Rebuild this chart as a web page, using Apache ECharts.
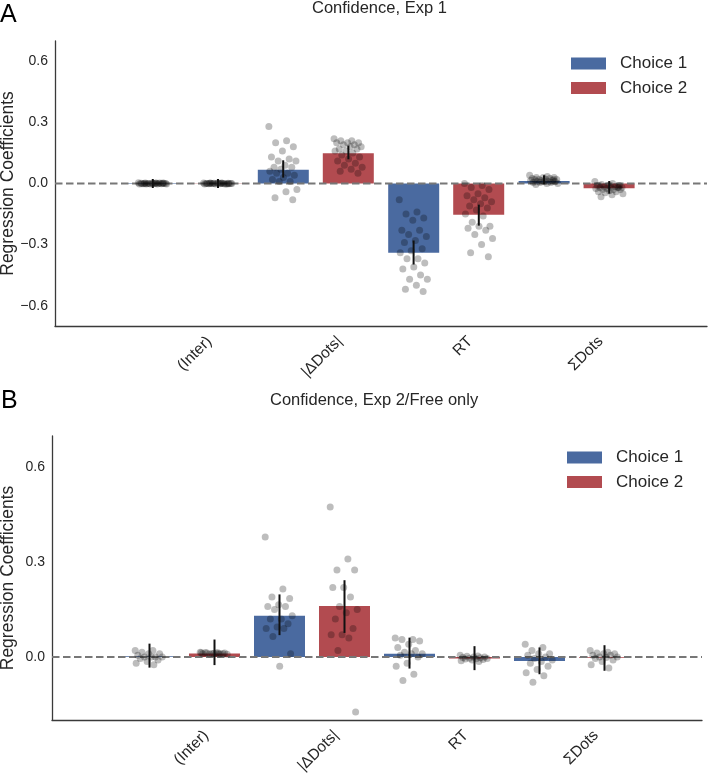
<!DOCTYPE html>
<html>
<head>
<meta charset="utf-8">
<script src="https://cdn.jsdelivr.net/npm/echarts@6/dist/echarts.min.js"></script>
<style>html,body{margin:0;padding:0;background:#fff}#c{width:708px;height:779px}</style>
</head>
<body>
<div id="c"></div>
<script>
// ---------- data ----------
const categories = ['(Inter)', '|ΔDots|', 'RT', 'ΣDots'];
const seriesNames = ['Choice 1', 'Choice 2'];
const yTicksA = [-0.6, -0.3, 0.0, 0.3, 0.6];
const yTicksB = [0.0, 0.3, 0.6];

// Panel A: Confidence, Exp 1 — bar means and error-bar bounds
const meanA_c1 = [0.002, 0.068, -0.34, 0.012];
const meanA_c2 = [0.001, 0.149, -0.153, -0.023];
const ciLowA_c1 = [-0.022, 0.029, -0.398, -0.004];
const ciHighA_c1 = [0.022, 0.114, -0.28, 0.04];
const ciLowA_c2 = [-0.022, 0.119, -0.207, -0.05];
const ciHighA_c2 = [0.022, 0.186, -0.104, 0.012];

// Panel A: individual subject coefficients
const ptsA_c1_inter = [0.004, 0.003, 0.002, 0.002, 0.001, 0.001, 0.0, 0.0, 0.0, 0.0, -0.001, -0.001, -0.002, -0.002, -0.003, -0.003, 0.001, 0.0, -0.001, 0.002, 0.0, -0.002, 0.001, 0.0, 0.0];
const ptsA_c2_inter = [0.003, 0.002, 0.002, 0.001, 0.001, 0.0, 0.0, 0.0, 0.0, -0.001, -0.001, -0.002, -0.002, -0.003, 0.001, 0.0, -0.001, 0.002, 0.0, -0.002, 0.001, 0.0, 0.0, 0.001, -0.001];
const ptsA_c1_dots = [0.28, 0.21, 0.20, 0.18, 0.16, 0.13, 0.12, 0.11, 0.11, 0.09, 0.08, 0.08, 0.07, 0.06, 0.05, 0.05, 0.04, 0.03, 0.02, 0.01, 0.01, -0.03, -0.04, -0.07, -0.08];
const ptsA_c2_dots = [0.22, 0.21, 0.21, 0.20, 0.20, 0.20, 0.19, 0.19, 0.18, 0.18, 0.17, 0.17, 0.16, 0.16, 0.15, 0.14, 0.13, 0.12, 0.11, 0.10, 0.09, 0.08, 0.07, 0.06, 0.05];
const ptsA_c1_rt = [-0.08, -0.14, -0.15, -0.17, -0.18, -0.23, -0.23, -0.25, -0.26, -0.28, -0.29, -0.32, -0.33, -0.34, -0.37, -0.37, -0.39, -0.41, -0.42, -0.45, -0.47, -0.47, -0.50, -0.52, -0.53];
const ptsA_c2_rt = [0.0, -0.01, -0.02, -0.03, -0.05, -0.06, -0.07, -0.08, -0.09, -0.10, -0.11, -0.12, -0.13, -0.15, -0.16, -0.19, -0.21, -0.21, -0.22, -0.23, -0.25, -0.27, -0.30, -0.34, -0.36];
const ptsA_c1_sum = [0.04, 0.035, 0.03, 0.03, 0.03, 0.025, 0.025, 0.02, 0.02, 0.02, 0.02, 0.015, 0.015, 0.015, 0.01, 0.01, 0.01, 0.01, 0.005, 0.005, 0.005, 0.0, 0.0, -0.005, 0.02];
const ptsA_c2_sum = [0.01, 0.0, -0.005, -0.01, -0.01, -0.01, -0.015, -0.015, -0.02, -0.02, -0.02, -0.02, -0.025, -0.025, -0.03, -0.03, -0.03, -0.035, -0.04, -0.04, -0.045, -0.05, -0.055, -0.065, -0.02];

// Panel B: Confidence, Exp 2/Free only
const meanB_c1 = [0.002, 0.13, 0.01, -0.013];
const meanB_c2 = [0.011, 0.161, -0.005, -0.003];
const ciLowB_c1 = [-0.034, 0.069, -0.037, -0.055];
const ciHighB_c1 = [0.042, 0.198, 0.061, 0.03];
const ciLowB_c2 = [-0.026, 0.076, -0.042, -0.044];
const ciHighB_c2 = [0.055, 0.243, 0.034, 0.037];

const ptsB_c1_inter = [0.02, 0.02, 0.015, 0.01, 0.01, 0.005, 0.0, 0.0, 0.0, 0.0, -0.005, -0.01, -0.015, -0.02, -0.025];
const ptsB_c2_inter = [0.015, 0.013, 0.012, 0.012, 0.011, 0.01, 0.01, 0.009, 0.008, 0.012, 0.014, 0.01, 0.011, 0.013, 0.009];
const ptsB_c1_dots = [0.38, 0.215, 0.19, 0.185, 0.165, 0.16, 0.16, 0.15, 0.13, 0.12, 0.12, 0.105, 0.095, 0.09, 0.09, 0.065, 0.01, -0.03];
const ptsB_c2_dots = [0.475, 0.31, 0.275, 0.275, 0.22, 0.22, 0.19, 0.16, 0.15, 0.14, 0.12, 0.09, 0.07, 0.07, 0.06, 0.02, -0.175];
const ptsB_c1_rt = [0.06, 0.055, 0.055, 0.05, 0.04, 0.03, 0.02, 0.015, 0.01, 0.01, 0.005, 0.0, -0.02, -0.03, -0.055, -0.075];
const ptsB_c2_rt = [0.005, 0.003, 0.002, 0.0, 0.0, -0.002, -0.003, -0.004, -0.005, -0.006, -0.007, -0.008, -0.01, -0.012, -0.015];
const ptsB_c1_sum = [0.04, 0.03, 0.02, 0.01, 0.01, 0.005, 0.0, -0.005, -0.01, -0.015, -0.02, -0.03, -0.04, -0.05, -0.06, -0.08];
const ptsB_c2_sum = [0.02, 0.015, 0.012, 0.01, 0.01, 0.005, 0.005, 0.0, 0.0, -0.002, -0.005, -0.01, -0.015, -0.025, -0.035];

// ---------- build ----------
const BLUE = '#4a6aa0', RED = '#b24b50';
const FONT = '"Liberation Sans", Arial, sans-serif';
const padded = [''].concat(categories, ['']);

function jit(i) { return (((i * 0.6180339887) % 1) - 0.5) * 0.22; }
function pointsData(lists, side) {
  const out = [];
  lists.forEach((arr, ci) => arr.forEach((v, i) => out.push([ci + 1 + side * 0.25 + jit(i), v])));
  return out;
}
function errData(lo, hi, side) { return lo.map((l, ci) => [ci + 1 + side * 0.25, l, hi[ci]]); }
function barData(m) { return ['-'].concat(m, ['-']); }
function yFmt(v) {
  const k = Math.round(v * 10);
  if (k % 3 !== 0) return '';
  return (k / 10).toFixed(1).replace('-', '\u2212');
}

const gBase = { containLabel: false, outerBoundsMode: 'none' };
const grids = [
  Object.assign({ left: 55, top: 41, width: 652, height: 285 }, gBase),
  Object.assign({ left: 55 + 24, top: 41, width: 652, height: 285 }, gBase),
  Object.assign({ left: 52, top: 436, width: 650, height: 284 }, gBase),
  Object.assign({ left: 52 + 24, top: 436, width: 650, height: 284 }, gBase)
];
const xAxes = [], yAxes = [], series = [];
const panels = [
  { g: 0, min: -0.7, max: 0.7, gap: 38, means: [meanA_c1, meanA_c2], lo: [ciLowA_c1, ciLowA_c2], hi: [ciHighA_c1, ciHighA_c2],
    pts: [[ptsA_c1_inter, ptsA_c1_dots, ptsA_c1_rt, ptsA_c1_sum], [ptsA_c2_inter, ptsA_c2_dots, ptsA_c2_rt, ptsA_c2_sum]] },
  { g: 2, min: -0.2, max: 0.7, gap: 35, means: [meanB_c1, meanB_c2], lo: [ciLowB_c1, ciLowB_c2], hi: [ciHighB_c1, ciHighB_c2],
    pts: [[ptsB_c1_inter, ptsB_c1_dots, ptsB_c1_rt, ptsB_c1_sum], [ptsB_c2_inter, ptsB_c2_dots, ptsB_c2_rt, ptsB_c2_sum]] }
];
panels.forEach(p => {
  const xCat = xAxes.length, xVal = xCat + 1, yi = yAxes.length;
  xAxes.push({ type: 'category', gridIndex: p.g, data: padded, boundaryGap: false,
    axisLine: { show: true, onZero: false, lineStyle: { color: '#3a3a3a', width: 1.3 } }, axisTick: { show: false }, axisLabel: { show: false }, splitLine: { show: false } });
  xAxes.push({ type: 'value', gridIndex: p.g, min: 0, max: 5, show: false });
  xAxes.push({ type: 'category', gridIndex: p.g + 1, data: padded, boundaryGap: false,
    axisLine: { show: false, onZero: false }, axisTick: { show: false }, splitLine: { show: false },
    axisLabel: { interval: 0, rotate: 45, margin: 13, fontSize: 15.5, color: '#262626', fontFamily: FONT } });
  yAxes.push({ type: 'value', gridIndex: p.g, min: p.min, max: p.max, interval: 0.1,
    name: 'Regression Coefficients', nameLocation: 'middle', nameGap: p.gap, nameMoveOverlap: false,
    nameTextStyle: { fontSize: 17.5, color: '#262626', fontFamily: FONT },
    axisLine: { show: true, onZero: false, lineStyle: { color: '#3a3a3a', width: 1.3 } }, axisTick: { show: false }, splitLine: { show: false },
    axisLabel: { formatter: yFmt, fontSize: 14, color: '#262626', fontFamily: FONT, margin: 7 } });
  yAxes.push({ type: 'value', gridIndex: p.g + 1, show: false, min: p.min, max: p.max });
  [0, 1].forEach(s => {
    series.push({ type: 'bar', name: seriesNames[s], xAxisIndex: xCat, yAxisIndex: yi, data: barData(p.means[s]),
      barWidth: 51, barGap: '27.45%', itemStyle: { color: s ? RED : BLUE }, z: 2 });
  });
  series.push({ type: 'line', xAxisIndex: xVal, yAxisIndex: yi, data: [[0, 0], [5, 0]], symbol: 'none', silent: true,
    lineStyle: { color: '#777', width: 2, type: [7.5, 3.5] }, z: 3 });
  [0, 1].forEach(s => {
    const side = s ? 1 : -1;
    series.push({ type: 'scatter', xAxisIndex: xVal, yAxisIndex: yi, data: pointsData(p.pts[s], side),
      symbolSize: 7, itemStyle: { color: 'rgba(0,0,0,0.32)' }, z: 4 });
    series.push({ type: 'custom', xAxisIndex: xVal, yAxisIndex: yi, data: errData(p.lo[s], p.hi[s], side), z: 5,
      renderItem: (params, api) => {
        const a = api.coord([api.value(0), api.value(1)]);
        const b = api.coord([api.value(0), api.value(2)]);
        return { type: 'line', shape: { x1: a[0], y1: a[1], x2: b[0], y2: b[1] }, style: { stroke: '#111', lineWidth: 2 } };
      } });
  });
});

const legendCommon = { orient: 'vertical', icon: 'rect', itemWidth: 35, itemHeight: 12, itemGap: 7.5, padding: 0,
  data: seriesNames, textStyle: { fontSize: 17, color: '#262626', fontFamily: FONT, padding: [0, 0, 0, 9] } };

const option = {
  animation: false,
  backgroundColor: '#fff',
  title: [
    { text: 'A', left: 0, top: 3, padding: 0, textStyle: { fontSize: 25, fontWeight: 'normal', color: '#000', fontFamily: FONT } },
    { text: 'Confidence, Exp 1', left: 312, top: 0, padding: 0, textStyle: { fontSize: 16.5, fontWeight: 'normal', color: '#262626', fontFamily: FONT } },
    { text: 'B', left: 1, top: 388.5, padding: 0, textStyle: { fontSize: 25, fontWeight: 'normal', color: '#000', fontFamily: FONT } },
    { text: 'Confidence, Exp 2/Free only', left: 270, top: 392, padding: 0, textStyle: { fontSize: 16.5, fontWeight: 'normal', color: '#262626', fontFamily: FONT } }
  ],
  legend: [
    Object.assign({ left: 571, top: 55 }, legendCommon),
    Object.assign({ left: 567, top: 449 }, legendCommon)
  ],
  grid: grids,
  xAxis: xAxes,
  yAxis: yAxes,
  series: series
};
echarts.init(document.getElementById('c')).setOption(option);
</script>
</body>
</html>
